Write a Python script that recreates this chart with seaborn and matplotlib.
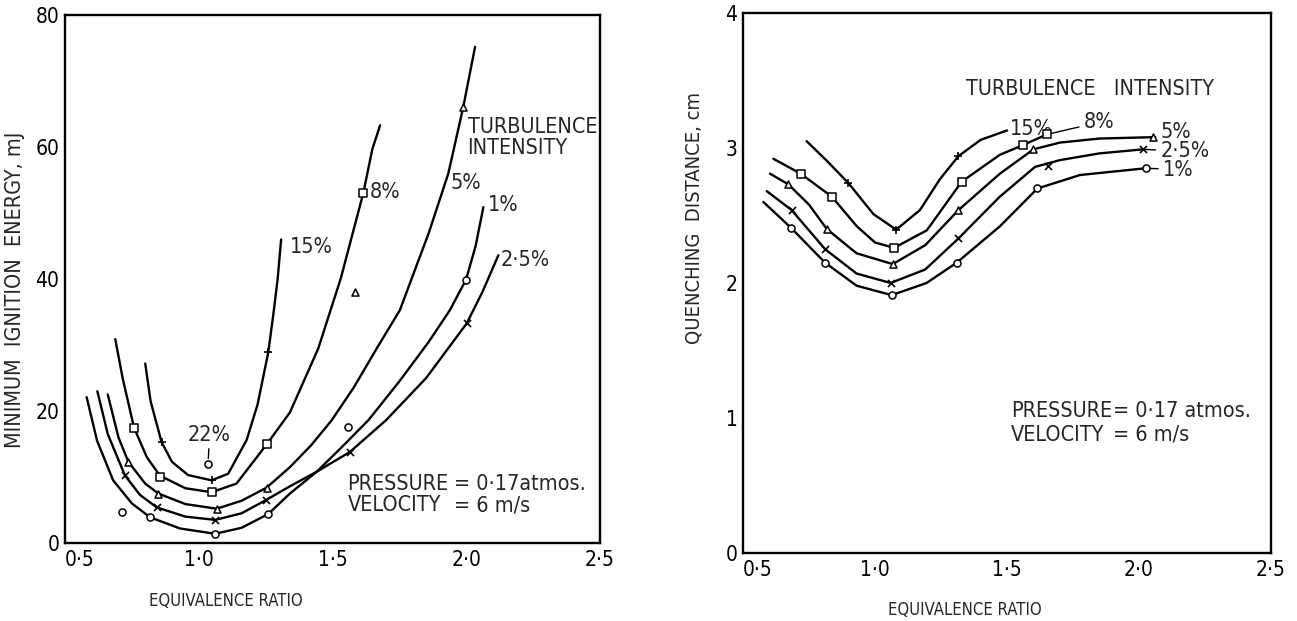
import os
import matplotlib
matplotlib.use("Agg")
import matplotlib.pyplot as plt
from matplotlib import font_manager as fm
import seaborn as sns
import pandas as pd

# ---------------- LEFT PANEL: minimum ignition energy (mJ) ----------------
L15_X = [0.80, 0.82, 0.861, 0.90, 0.96, 1.048, 1.11, 1.179, 1.22, 1.26, 1.28, 1.295, 1.308]
L15_Y = [27.2, 21.5, 15.3, 12.3, 10.3, 9.5, 10.5, 15.6, 21.0, 28.9, 35.0, 40.0, 46.0]
L8_X = [0.688, 0.716, 0.758, 0.806, 0.855, 0.95, 1.048, 1.141, 1.254, 1.341, 1.447, 1.531, 1.615, 1.649, 1.678]
L8_Y = [30.9, 24.9, 17.5, 13.0, 10.2, 8.3, 7.7, 9.0, 14.95, 19.8, 29.5, 40.1, 53.0, 59.7, 63.3]
L5_X = [0.66, 0.70, 0.737, 0.80, 0.849, 0.95, 1.067, 1.16, 1.254, 1.341, 1.42, 1.497, 1.58, 1.67, 1.752, 1.80, 1.86, 1.933, 1.989, 2.033]
L5_Y = [22.5, 16.0, 12.3, 9.0, 7.5, 5.9, 5.2, 6.4, 8.4, 11.5, 14.8, 18.6, 23.6, 29.8, 35.3, 40.5, 47.0, 56.0, 66.1, 75.2]
L25_X = [0.621, 0.66, 0.724, 0.78, 0.843, 0.95, 1.062, 1.16, 1.251, 1.341, 1.441, 1.565, 1.70, 1.85, 2.002, 2.06, 2.12]
L25_Y = [23.0, 16.5, 10.25, 7.3, 5.4, 4.0, 3.5, 4.5, 6.5, 8.6, 10.8, 13.8, 18.6, 25.0, 33.3, 38.0, 43.6]
L1_X = [0.581, 0.62, 0.68, 0.75, 0.818, 0.93, 1.061, 1.16, 1.26, 1.341, 1.441, 1.534, 1.634, 1.75, 1.86, 1.939, 1.999, 2.035, 2.064]
L1_Y = [22.1, 15.5, 9.5, 6.0, 3.9, 2.2, 1.4, 2.3, 4.4, 7.5, 10.8, 14.5, 18.6, 24.5, 30.5, 35.3, 39.9, 45.0, 50.9]
P15_X = [0.861, 1.048, 1.26];                 P15_Y = [15.3, 9.5, 28.9]
P8_X = [0.758, 0.855, 1.048, 1.254, 1.615];   P8_Y = [17.5, 10.0, 7.7, 15.0, 53.0]
P8T_X = [1.584];                              P8T_Y = [38.0]
P5_X = [0.737, 0.849, 1.067, 1.254, 1.989];   P5_Y = [12.3, 7.5, 5.2, 8.4, 66.1]
P25_X = [0.724, 0.843, 1.062, 1.251, 1.565, 2.002]; P25_Y = [10.25, 5.4, 3.5, 6.5, 13.8, 33.3]
P1_X = [0.712, 0.818, 1.061, 1.26, 1.559, 1.999];   P1_Y = [4.7, 3.9, 1.4, 4.4, 17.6, 39.9]
P22_X = [1.036];                              P22_Y = [12.0]

# ---------------- RIGHT PANEL: quenching distance (cm) ----------------
R15_X = [0.741, 0.82, 0.899, 0.994, 1.080, 1.170, 1.246, 1.316, 1.40, 1.50]
R15_Y = [3.05, 2.90, 2.74, 2.51, 2.395, 2.54, 2.77, 2.94, 3.06, 3.13]
R8_X = [0.615, 0.718, 0.836, 0.931, 1.00, 1.072, 1.196, 1.328, 1.473, 1.559, 1.65]
R8_Y = [2.92, 2.81, 2.64, 2.42, 2.30, 2.26, 2.39, 2.75, 2.95, 3.02, 3.10]
R5_X = [0.602, 0.672, 0.75, 0.817, 0.93, 1.067, 1.19, 1.316, 1.473, 1.60, 1.70, 1.85, 2.052]
R5_Y = [2.81, 2.73, 2.58, 2.40, 2.22, 2.14, 2.28, 2.54, 2.81, 2.99, 3.04, 3.07, 3.08]
R25_X = [0.590, 0.684, 0.811, 0.93, 1.059, 1.19, 1.316, 1.473, 1.606, 1.70, 1.85, 2.016]
R25_Y = [2.68, 2.54, 2.25, 2.07, 2.00, 2.10, 2.33, 2.64, 2.86, 2.91, 2.96, 2.99]
R1_X = [0.577, 0.681, 0.811, 0.93, 1.063, 1.195, 1.309, 1.473, 1.615, 1.777, 2.026]
R1_Y = [2.60, 2.41, 2.15, 1.98, 1.91, 2.00, 2.15, 2.42, 2.70, 2.80, 2.85]
Q15_X = [0.899, 1.080, 1.316];                     Q15_Y = [2.74, 2.395, 2.94]
Q8_X = [0.718, 0.836, 1.072, 1.328, 1.559, 1.65];  Q8_Y = [2.81, 2.64, 2.26, 2.75, 3.02, 3.10]
Q5_X = [0.672, 0.817, 1.067, 1.316, 1.60, 2.052];  Q5_Y = [2.73, 2.40, 2.14, 2.54, 2.99, 3.08]
Q25_X = [0.684, 0.811, 1.059, 1.316, 1.655, 2.016]; Q25_Y = [2.54, 2.25, 2.00, 2.33, 2.87, 2.99]
Q1_X = [0.681, 0.811, 1.063, 1.309, 1.615, 2.026];  Q1_Y = [2.41, 2.15, 1.91, 2.15, 2.70, 2.85]

X_TICKS = [0.5, 1.0, 1.5, 2.0, 2.5]
X_TICKLABELS = ["0·5", "1·0", "1·5", "2·0", "2·5"]
L_YTICKS = [0, 20, 40, 60, 80]
R_YTICKS = [0, 1, 2, 3, 4]

sns.set_style("white")
plt.rcParams["font.family"] = ["DejaVu Sans"]

# look for a condensed sans face (the original lettering is narrow)
def find_condensed():
    prefs = ["dejavusanscondensed.ttf", "liberationsansnarrow-regular.ttf",
             "robotocondensed-regular.ttf", "notosans-condensed.ttf",
             "opensans_condensed-regular.ttf", "opensanscondensed-regular.ttf"]
    files = {os.path.basename(f.fname).lower(): f.fname for f in fm.fontManager.ttflist}
    for p in prefs:
        if p in files:
            return files[p]
    for key, path in files.items():
        if ("condensed" in key or "narrow" in key) and not any(
                w in key for w in ("bold", "italic", "oblique", "light", "thin", "medium",
                                   "black", "semi", "extra", "ultra")):
            return path
    return None

cond = find_condensed()
if cond:
    def FP(size):
        return fm.FontProperties(fname=cond, size=size)
    FS, TS, YL, XL = 15.5, 15, 15.5, 12
else:
    def FP(size):
        return fm.FontProperties(family="DejaVu Sans", size=size)
    FS, TS, YL, XL = 13, 13, 13.5, 10.5

fig = plt.figure(figsize=(12.97, 6.21), dpi=100)
ax1 = fig.add_axes([0.0501, 0.1256, 0.4125, 0.850])
ax2 = fig.add_axes([0.5729, 0.1095, 0.4071, 0.8696])

LW = 1.7
def curve(ax, xs, ys):
    df = pd.DataFrame({"x": xs, "y": ys})
    sns.lineplot(data=df, x="x", y="y", ax=ax, color="black", lw=LW, sort=False, estimator=None)

def points(ax, xs, ys, marker, size=26):
    df = pd.DataFrame({"x": xs, "y": ys})
    if marker in ("+", "x"):
        sns.scatterplot(data=df, x="x", y="y", ax=ax, marker=marker, s=size, color="black",
                        linewidth=1.2, zorder=4)
    else:
        sns.scatterplot(data=df, x="x", y="y", ax=ax, marker=marker, s=size, facecolor="white",
                        edgecolor="black", linewidth=1.1, zorder=4)

def txt(ax, x, y, s, **kw):
    ax.text(x, y, s, fontproperties=FP(FS), va="center", **kw)

def lead(ax, s, pt, at, **kw):
    ax.annotate(s, xy=pt, xytext=at, fontproperties=FP(FS), va="center",
                arrowprops=dict(arrowstyle="-", color="black", lw=1.0, shrinkA=1, shrinkB=0), **kw)

# left panel
for xs, ys in [(L15_X, L15_Y), (L8_X, L8_Y), (L5_X, L5_Y), (L25_X, L25_Y), (L1_X, L1_Y)]:
    curve(ax1, xs, ys)
points(ax1, P15_X, P15_Y, "+")
points(ax1, P8_X, P8_Y, "s")
points(ax1, P8T_X, P8T_Y, "^")
points(ax1, P5_X, P5_Y, "^")
points(ax1, P25_X, P25_Y, "x")
points(ax1, P1_X, P1_Y, "o")
points(ax1, P22_X, P22_Y, "o")

txt(ax1, 1.34, 44.9, "15%")
txt(ax1, 1.64, 53.2, "8%")
txt(ax1, 1.94, 54.5, "5%")
txt(ax1, 2.08, 51.2, "1%")
txt(ax1, 2.13, 42.9, "2·5%")
txt(ax1, 2.005, 63.1, "TURBULENCE")
txt(ax1, 2.005, 59.9, "INTENSITY")
ax1.annotate("22%", xy=(P22_X[0], P22_Y[0] + 0.8), xytext=(1.04, 16.3), fontproperties=FP(FS),
             ha="center", va="center",
             arrowprops=dict(arrowstyle="-", color="black", lw=1.0, shrinkA=8, shrinkB=0))
txt(ax1, 1.556, 9.0, "PRESSURE")
txt(ax1, 1.955, 9.0, "= 0·17atmos.")
txt(ax1, 1.556, 5.7, "VELOCITY")
txt(ax1, 1.955, 5.7, "= 6 m/s")

ax1.set_xlim(0.5, 2.5)
ax1.set_ylim(0, 80)
ax1.set_yticks(L_YTICKS)
ax1.set_yticklabels([str(v) for v in L_YTICKS], fontproperties=FP(TS))
ax1.set_ylabel("MINIMUM  IGNITION  ENERGY, mJ", fontproperties=FP(YL))
ax1.yaxis.set_label_coords(-0.075, 0.48)

# right panel
for xs, ys in [(R15_X, R15_Y), (R8_X, R8_Y), (R5_X, R5_Y), (R25_X, R25_Y), (R1_X, R1_Y)]:
    curve(ax2, xs, ys)
points(ax2, Q15_X, Q15_Y, "+")
points(ax2, Q8_X, Q8_Y, "s")
points(ax2, Q5_X, Q5_Y, "^")
points(ax2, Q25_X, Q25_Y, "x")
points(ax2, Q1_X, Q1_Y, "o")

txt(ax2, 1.51, 3.14, "15%")
lead(ax2, "8%", (R8_X[-1], R8_Y[-1]), (1.79, 3.19))
lead(ax2, "5%", (R5_X[-1], R5_Y[-1]), (2.08, 3.12))
lead(ax2, "2·5%", (R25_X[-1], R25_Y[-1]), (2.08, 2.975))
lead(ax2, "1%", (R1_X[-1], R1_Y[-1]), (2.09, 2.84))
txt(ax2, 1.344, 3.437, "TURBULENCE   INTENSITY")
txt(ax2, 1.514, 1.05, "PRESSURE")
txt(ax2, 1.90, 1.05, "= 0·17 atmos.")
txt(ax2, 1.514, 0.876, "VELOCITY")
txt(ax2, 1.90, 0.876, "= 6 m/s")

ax2.set_xlim(0.5, 2.5)
ax2.set_ylim(0, 4)
ax2.set_yticks(R_YTICKS)
ax2.set_yticklabels([str(v) for v in R_YTICKS], fontproperties=FP(TS))
ax2.set_ylabel("QUENCHING  DISTANCE, cm", fontproperties=FP(YL - 1))
ax2.yaxis.set_label_coords(-0.075, 0.62)

for ax, lx, ly in [(ax1, 0.30, -0.092), (ax2, 0.42, -0.088)]:
    ax.set_xticks(X_TICKS)
    labels = ax.set_xticklabels(X_TICKLABELS, fontproperties=FP(TS))
    labels[0].set_horizontalalignment("left")
    ax.set_xlabel("EQUIVALENCE RATIO", fontproperties=FP(XL))
    ax.xaxis.set_label_coords(lx, ly)
    ax.tick_params(axis="x", direction="in", length=5, width=1.2, pad=5, colors="black")
    ax.tick_params(axis="y", direction="in", length=5, width=1.2, pad=4, colors="black")
    for sp in ax.spines.values():
        sp.set_visible(True)
        sp.set_color("black")
        sp.set_linewidth(1.7)

fig.savefig("out.png", dpi=100, facecolor="white")
